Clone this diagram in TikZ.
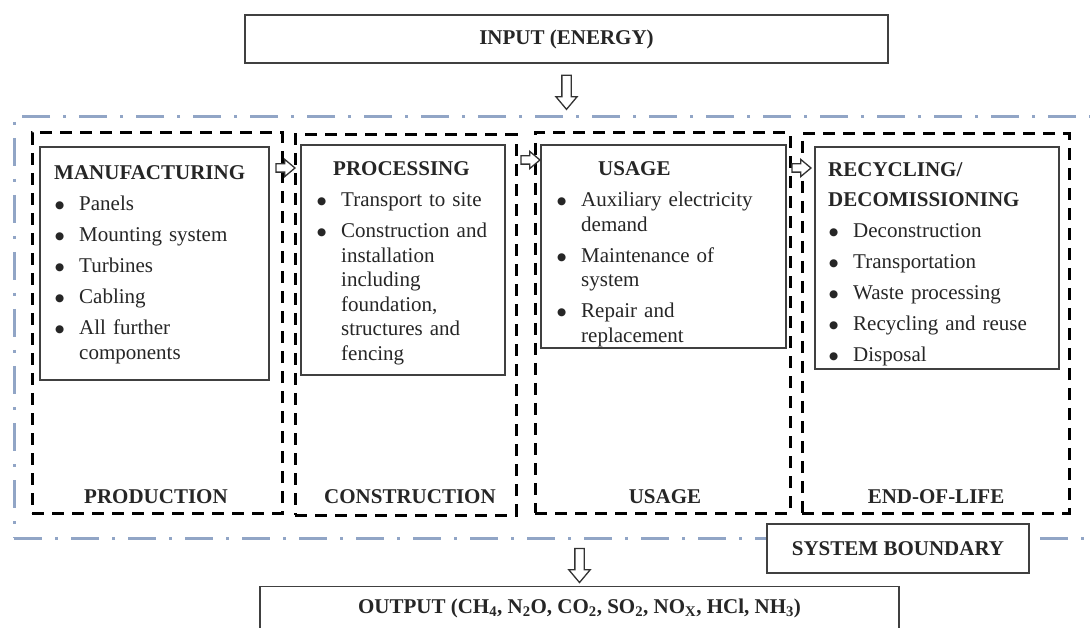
\documentclass[tikz,border=0pt]{standalone}
\usepackage{fontspec}
\setmainfont{Liberation Serif}
\newfontfamily\dotfont{DejaVu Sans}
\usepackage{enumitem}
\usetikzlibrary{shapes.arrows,calc}
\definecolor{bluegray}{RGB}{145,165,198}
\setlist[itemize]{label={\raisebox{2pt}{\dotfont\fontsize{10.5}{10.5}\selectfont ●}}, leftmargin=25pt,
  labelsep=15pt, topsep=7pt, itemsep=6.5pt, parsep=0pt, partopsep=0pt}

\begin{document}
\begin{tikzpicture}[x=1pt,y=-1pt,
  txt/.style={text=black!85, font=\fontsize{21}{24.5}\selectfont},
  bold txt/.style={text=black!85, font=\fontsize{21}{24.5}\selectfont\bfseries},
  plain box/.style={draw=black!75, line width=1.3, fill=white, inner sep=0},
  stage box/.style={draw=black, line width=3, dash pattern=on 12pt off 8pt, inner sep=0},
  boundary/.style={draw=bluegray, line width=3, dash pattern=on 28pt off 13pt on 3pt off 13pt, inner sep=0},
  hollow/.style={single arrow, draw=black!80, line width=1.3, fill=white,
    single arrow tip angle=80},
  down arrow/.style={hollow, shape border rotate=270, minimum height=34, inner xsep=4, inner ysep=0,
    single arrow head extend=6},
  right arrow/.style={hollow, minimum height=19, inner xsep=0, inner ysep=3.5, single arrow head extend=4.5},
  list text/.style={txt, anchor=north west, inner sep=0, align=left}]
  \useasboundingbox (0,0) rectangle (1090,628);
  \clip (0,0) rectangle (1090,628);

  \node[plain box, bold txt, minimum width=643, minimum height=48] (input) at (566.5,39) {INPUT (ENERGY)};
  \node[boundary, minimum width=1090, minimum height=421] (sysb) at (559,327.5) {};

  \node[stage box, minimum width=250, minimum height=380] (prod) at (157,323) {};
  \node[stage box, minimum width=221, minimum height=380] (cons) at (405.5,325) {};
  \node[stage box, minimum width=255, minimum height=380] (use) at (662.5,323) {};
  \node[stage box, minimum width=267, minimum height=379] (eol) at (935.5,323.5) {};

  \node[plain box, minimum width=229, minimum height=233] (manu) at (154.5,263.5) {};
  \node[plain box, minimum width=204, minimum height=230] (proc) at (403,260) {};
  \node[plain box, minimum width=245, minimum height=203] (usage) at (663.5,246.5) {};
  \node[plain box, minimum width=244, minimum height=222] (recy) at (937,258) {};

  \node[list text, text width=207] (manutxt) at (54,165) {%
    \textbf{MANUFACTURING}
    \begin{itemize}
      \item Panels
      \item Mounting system
      \item Turbines
      \item Cabling
      \item All further\newline components
    \end{itemize}};
  \node[list text, text width=184] (proctxt) at (316,161) {%
    \hspace*{17pt}\textbf{PROCESSING}
    \begin{itemize}
      \item Transport to site
      \item Construction and\newline installation\newline including\newline foundation,\newline structures and\newline fencing
    \end{itemize}};
  \node[list text, text width=224] (usagetxt) at (556,161) {%
    \hspace*{42pt}\textbf{USAGE}
    \begin{itemize}
      \item Auxiliary electricity\newline demand
      \item Maintenance of\newline system
      \item Repair and\newline replacement
    \end{itemize}};
  \node[list text, text width=225] (recytxt) at (828,162) {%
    \textbf{RECYCLING/}\\[5.5pt]\textbf{DECOMISSIONING}
    \begin{itemize}
      \item Deconstruction
      \item Transportation
      \item Waste processing
      \item Recycling and reuse
      \item Disposal
    \end{itemize}};

  \node[bold txt, anchor=base] (prodlab) at (156,503) {PRODUCTION};
  \node[bold txt, anchor=base] (conslab) at (410,503) {CONSTRUCTION};
  \node[bold txt, anchor=base] (uselab) at (665,503) {USAGE};
  \node[bold txt, anchor=base] (eollab) at (936,503) {END-OF-LIFE};

  \node[right arrow] (a1) at (283,168) {};
  \node[right arrow] (a2) at (528,160) {};
  \node[right arrow] (a3) at (799,168) {};

  \node[plain box, bold txt, minimum width=262, minimum height=49] (sblab) at (898,548.5) {SYSTEM BOUNDARY};
  \node[plain box, bold txt, minimum width=639, minimum height=44, anchor=north] (output) at (579.5,586)
    {OUTPUT (CH\textsubscript{4}, N\textsubscript{2}O, CO\textsubscript{2}, SO\textsubscript{2}, NO\textsubscript{X}, HCl, NH\textsubscript{3})};

  \node[down arrow] (inarrow) at ($(input.south)!.5!(input.south |- sysb.north)$) {};
  \node[down arrow] (outarrow) at ($(output.north |- sysb.south)!.5!(output.north)$) {};
\end{tikzpicture}
\end{document}
